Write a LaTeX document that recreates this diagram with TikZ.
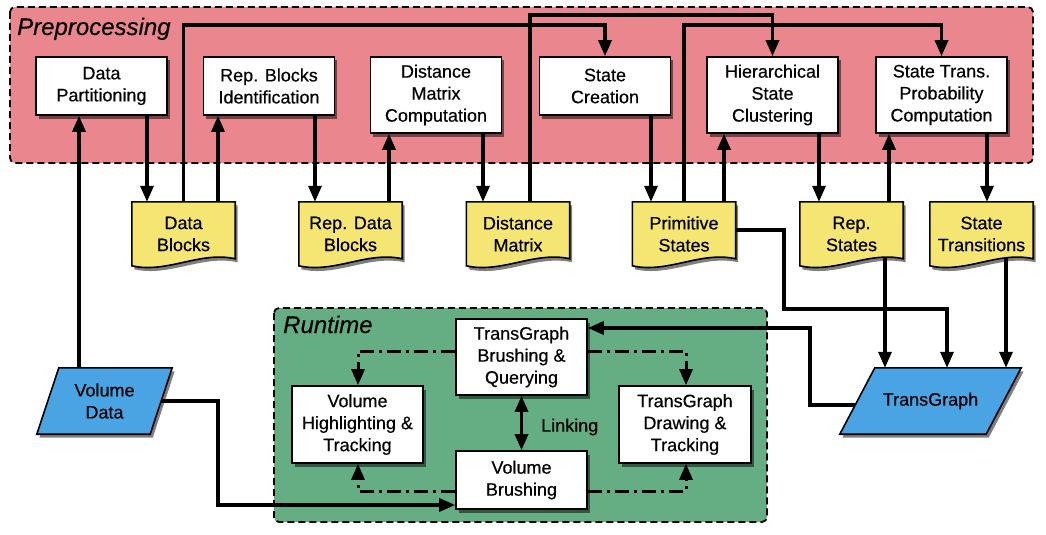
\documentclass[tikz,border=0pt]{standalone}
\usepackage{fontspec}
\setmainfont{Liberation Sans}[FakeBold=0.4]
\usetikzlibrary{arrows.meta,shadows,calc}
\definecolor{prepink}{RGB}{234,134,141}
\definecolor{rungreen}{RGB}{101,174,131}
\definecolor{docyellow}{RGB}{245,230,115}
\definecolor{datablue}{RGB}{74,163,226}
\pgfdeclarelayer{back}
\pgfdeclarelayer{conn}
\pgfdeclarelayer{mid}
\pgfsetlayers{back,conn,mid,main}
\newcommand\boxfont{\fontsize{18}{22}\selectfont}
\newcommand\grpfont{\fontsize{24}{28}\selectfont\itshape}
\newcommand\mydoc[1]{%
  \filldraw[docshape] (#1.north west) -- (#1.north east) -- ([yshift=-57pt]#1.north east)
    .. controls ([xshift=-35pt,yshift=-49pt]#1.north east) and ([xshift=-68pt,yshift=-72pt]#1.north east)
    .. ([yshift=-64pt]#1.north west) -- cycle;}
\begin{document}
\begin{tikzpicture}[x=1pt,y=-1pt,
  shad/.style={drop shadow={shadow xshift=2.5pt,shadow yshift=-3.5pt,opacity=0.5,fill=black}},
  container/.style={draw=black,line width=1.8pt,dash pattern=on 7pt off 4pt,rounded corners=5pt},
  grouplabel/.style={font=\grpfont,inner sep=0pt},
  proc/.style={draw=black,fill=white,line width=1.6pt,align=center,font=\boxfont,inner sep=0pt,
     minimum width=131pt,minimum height=58pt,shad},
  doctext/.style={align=center,font=\boxfont,inner sep=0pt,minimum width=103pt,minimum height=64pt},
  docshape/.style={draw=black,fill=docyellow,line width=1.6pt,shad},
  datashape/.style={draw=black,fill=datablue,line width=1.6pt,shad},
  arr/.style={line width=3.3pt,-{Triangle[length=16pt,width=13pt]}},
  darr/.style={line width=3.3pt,{Triangle[length=16pt,width=13pt]}-{Triangle[length=16pt,width=13pt]}},
  dd/.style={line width=3pt,dash pattern=on 14pt off 5pt on 3pt off 5pt,-{Triangle[length=16pt,width=13pt]}}
]
\useasboundingbox (0,0) rectangle (1046,535);

\begin{pgfonlayer}{back}
\fill[white] (0,0) rectangle (1046,535);
\filldraw[container,fill=prepink] (10,7) rectangle (1033,163);
\filldraw[container,fill=rungreen] (274,308) rectangle (767,522);
\end{pgfonlayer}
\node[grouplabel,anchor=base west] (lprep) at (17,35) {Preprocessing};
\node[grouplabel,anchor=base west] (lrun) at (283,333) {Runtime};

% process boxes
\node[proc] (dp) at (101.5,86) {Data\\Partitioning};
\node[proc] (rbi) at (269,86) {Rep. Blocks\\Identification};
\node[proc,minimum height=76pt] (dmc) at (436,95) {Distance\\Matrix\\Computation};
\node[proc] (sc) at (605,86) {State\\Creation};
\node[proc,minimum height=76pt] (hsc) at (772.5,95) {Hierarchical\\State\\Clustering};
\node[proc,minimum height=76pt] (stp) at (941.5,95) {State Trans.\\Probability\\Computation};

% documents
\node[doctext] (db) at (183.5,234) {Data\\Blocks};
\node[doctext] (rdb) at (350.5,234) {Rep. Data\\Blocks};
\node[doctext] (dm) at (518,234) {Distance\\Matrix};
\node[doctext] (ps) at (684,234) {Primitive\\States};
\node[doctext] (rs) at (851.5,234) {Rep.\\States};
\node[doctext] (st) at (981.5,234) {State\\Transitions};

% data (parallelograms)
\node[align=center,font=\boxfont,inner sep=0pt,minimum width=135pt,minimum height=66pt] (vd) at (104.5,401) {Volume\\Data};
\node[align=center,font=\boxfont,inner sep=0pt,minimum width=181pt,minimum height=66pt] (tg) at (930.5,401) {TransGraph};

% runtime boxes
\node[proc,minimum height=76pt] (tgb) at (521.5,357) {TransGraph\\Brushing \&\\Querying};
\node[proc,minimum height=77pt] (vh) at (357.5,424.5) {Volume\\Highlighting \&\\Tracking};
\node[proc,minimum width=132pt,minimum height=77pt] (td) at (685,424.5) {TransGraph\\Drawing \&\\Tracking};
\node[proc] (vb) at (521.5,480) {Volume\\Brushing};
\node[font=\boxfont,anchor=west,inner sep=0pt] (lnk) at (541,427) {Linking};

\begin{pgfonlayer}{mid}
\mydoc{db}\mydoc{rdb}\mydoc{dm}\mydoc{ps}\mydoc{rs}\mydoc{st}
\filldraw[datashape] ([xshift=22pt]vd.north west) -- (vd.north east) -- ([xshift=-22pt]vd.south east) -- (vd.south west) -- cycle;
\filldraw[datashape] ([xshift=35pt]tg.north west) -- (tg.north east) -- ([xshift=-35pt]tg.south east) -- (tg.south west) -- cycle;
\end{pgfonlayer}

\begin{pgfonlayer}{conn}
% vertical links in preprocessing
\draw[arr] (147,0 |- dp.south) -- (147,0 |- db.north);
\draw[arr] (218,0 |- db.north) -- (218,0 |- rbi.south);
\draw[arr] (315,0 |- rbi.south) -- (315,0 |- rdb.north);
\draw[arr] (389,0 |- rdb.north) -- (389,0 |- dmc.south);
\draw[arr] (483,0 |- dmc.south) -- (483,0 |- dm.north);
\draw[arr] (651,0 |- sc.south) -- (651,0 |- ps.north);
\draw[arr] (724,0 |- ps.north) -- (724,0 |- hsc.south);
\draw[arr] (819,0 |- hsc.south) -- (819,0 |- rs.north);
\draw[arr] (889,0 |- rs.north) -- (889,0 |- stp.south);
\draw[arr] (987,0 |- stp.south) -- (987,0 |- st.north);
% long routes
\draw[arr] (db.north) |- (sc.north |- 0,25) -- (sc.north);
\draw[arr] (530,0 |- dm.north) |- (hsc.north |- 0,15) -- (hsc.north);
\draw[arr] (ps.north) |- (stp.north |- 0,25) -- (stp.north);
% volume data
\draw[arr] (79,0 |- vd.north) -- (79,0 |- dp.south);
\draw[arr] ([xshift=-11pt]vd.east) -| (218,505) -- (vb.west |- 0,505);
% into TransGraph
\draw[arr] (ps.east |- 0,230) -| (784,309) -| (947,0 |- tg.north);
\draw[arr] (885,0 |- rs.center) -- (885,0 |- tg.north);
\draw[arr] (1006,0 |- st.center) -- (1006,0 |- tg.north);
\draw[arr] ([xshift=15.4pt,yshift=-4pt]tg.west) -| (810,328) -- (tgb.east |- 0,328);
% runtime
\draw[dd] (tgb.west |- 0,351) -| (358,0 |- vh.north);
\draw[dd] (tgb.east |- 0,351) -| (686,0 |- td.north);
\draw[dd] (vb.west |- 0,491) -| (358,0 |- vh.south);
\draw[dd] (vb.east |- 0,491) -| (686,0 |- td.south);
\draw[darr] (tgb.south) -- (vb.north);
\end{pgfonlayer}
\end{tikzpicture}
\end{document}
